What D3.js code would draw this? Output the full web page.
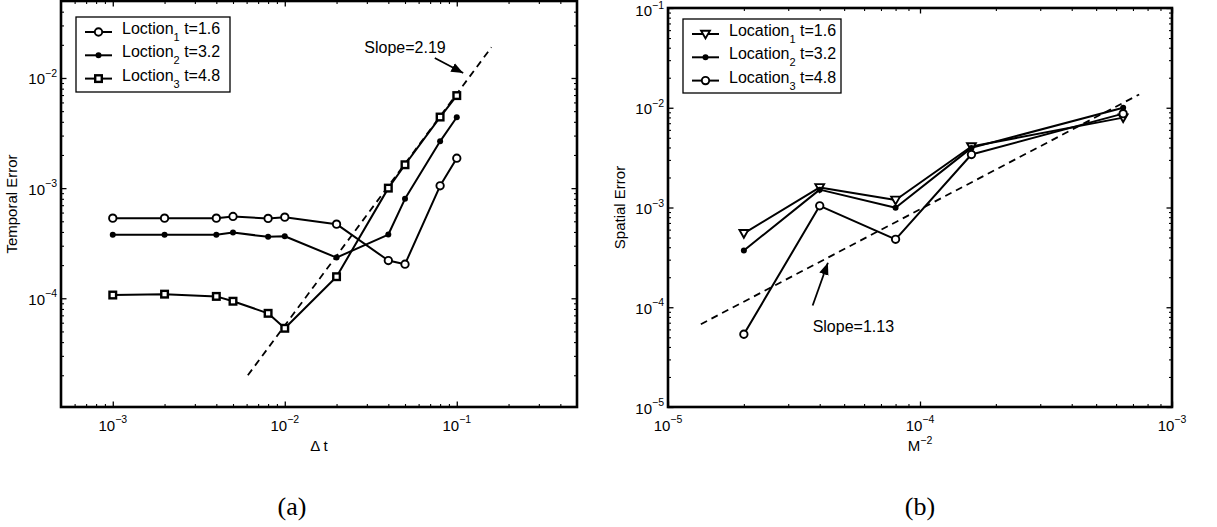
<!DOCTYPE html>
<html>
<head>
<meta charset="utf-8">
<script src="https://cdn.jsdelivr.net/npm/d3@7"></script>
<style>
  html, body { margin: 0; padding: 0; background: #fff; }
  svg { display: block; }
  text { font-family: "Liberation Sans", Arial, sans-serif; fill: #000; }
</style>
</head>
<body>
<svg id="fig" width="1217" height="527"></svg>
<script>
// ---- (a) temporal convergence ----
const dtValues = [1e-3, 2e-3, 4e-3, 5e-3, 8e-3, 1e-2, 2e-2, 4e-2, 5e-2, 8e-2, 1e-1];
const tempErrLoc1 = [5.34e-4, 5.34e-4, 5.34e-4, 5.53e-4, 5.31e-4, 5.45e-4, 4.71e-4, 2.20e-4, 2.04e-4, 1.05e-3, 1.87e-3];
const tempErrLoc2 = [3.77e-4, 3.77e-4, 3.77e-4, 3.95e-4, 3.61e-4, 3.66e-4, 2.34e-4, 3.79e-4, 8.0e-4, 2.66e-3, 4.40e-3];
const tempErrLoc3 = [1.07e-4, 1.09e-4, 1.04e-4, 9.4e-5, 7.3e-5, 5.34e-5, 1.57e-4, 1.0e-3, 1.63e-3, 4.42e-3, 6.92e-3];
const tempRefX = [6.1e-3, 0.159];
const tempRefY = [2.0e-5, 1.9e-2];
const tempLegend = ["Loction", "Loction", "Loction"];
const tempTimes = ["t=1.6", "t=3.2", "t=4.8"];
const tempXTicks = [1e-3, 1e-2, 1e-1];
const tempYTicks = [1e-4, 1e-3, 1e-2];
const tempSlopeText = "Slope=2.19";

// ---- (b) spatial convergence ----
const m2Values = [2e-5, 4e-5, 8e-5, 1.6e-4, 6.4e-4];
const spatErrLoc1 = [5.51e-4, 1.59e-3, 1.19e-3, 4.09e-3, 7.96e-3];
const spatErrLoc2 = [3.71e-4, 1.51e-3, 9.93e-4, 3.96e-3, 1.0e-2];
const spatErrLoc3 = [5.36e-5, 1.04e-3, 4.80e-4, 3.40e-3, 8.73e-3];
const spatRefX = [1.35e-5, 7.41e-4];
const spatRefY = [6.76e-5, 1.36e-2];
const spatLegend = ["Location", "Location", "Location"];
const spatTimes = ["t=1.6", "t=3.2", "t=4.8"];
const spatXTicks = [1e-5, 1e-4, 1e-3];
const spatYTicks = [1e-5, 1e-4, 1e-3, 1e-2, 1e-1];
const spatSlopeText = "Slope=1.13";

const svg = d3.select("#fig");
svg.append("rect").attr("width", 1217).attr("height", 527).attr("fill", "#fff");

const defs = svg.append("defs");
defs.append("marker").attr("id", "arrowHead")
  .attr("viewBox", "0 0 10 10").attr("refX", 10).attr("refY", 5)
  .attr("markerWidth", 12).attr("markerHeight", 12).attr("markerUnits", "userSpaceOnUse")
  .attr("orient", "auto")
  .append("path").attr("d", "M0,1 L10,5 L0,9 Z").attr("fill", "#000");

// 2..9 multiples of each decade inside the domain
function minorTicks(domain) {
  const lo = Math.floor(Math.log10(domain[0])), hi = Math.ceil(Math.log10(domain[1]));
  const out = [];
  for (let k = lo; k <= hi; k++) {
    for (let m = 2; m <= 9; m++) {
      const v = m * Math.pow(10, k);
      if (v > domain[0] && v < domain[1]) out.push(v);
    }
  }
  return out;
}

function sup(v) {
  return "\u2212" + Math.round(-Math.log10(v));
}

function markerPath(sel, kind) {
  if (kind === "circle") {
    sel.append("circle").attr("r", 3.7).attr("fill", "#fff").attr("stroke", "#000").attr("stroke-width", 1.9);
  } else if (kind === "dot") {
    sel.append("circle").attr("r", 3).attr("fill", "#000");
  } else if (kind === "square") {
    sel.append("rect").attr("x", -3.3).attr("y", -3.3).attr("width", 6.6).attr("height", 6.6)
      .attr("fill", "#fff").attr("stroke", "#000").attr("stroke-width", 2.4);
  } else if (kind === "tridown") {
    sel.append("path").attr("d", "M-4.4,-3.3 L4.4,-3.3 L0,4.4 Z")
      .attr("fill", "#fff").attr("stroke", "#000").attr("stroke-width", 1.9).attr("stroke-linejoin", "miter");
  }
}

function drawPanel(cfg) {
  const x = d3.scaleLog().domain(cfg.xDomain).range([cfg.x0, cfg.x1]);
  const y = d3.scaleLog().domain(cfg.yDomain).range([cfg.y1, cfg.y0]);
  const g = svg.append("g");

  // ticks on all four sides, pointing inward
  const axes = [
    [d3.axisBottom(x), cfg.xTicks, `translate(0,${cfg.y1})`, cfg.xDomain],
    [d3.axisTop(x), cfg.xTicks, `translate(0,${cfg.y0})`, cfg.xDomain],
    [d3.axisLeft(y), cfg.yTicks, `translate(${cfg.x0},0)`, cfg.yDomain],
    [d3.axisRight(y), cfg.yTicks, `translate(${cfg.x1},0)`, cfg.yDomain]
  ];
  axes.forEach(([ax, major, tr, dom]) => {
    const maj = major.filter(v => v >= dom[0] * 0.999 && v <= dom[1] * 1.001);
    g.append("g").attr("transform", tr)
      .call(ax.tickValues(maj).tickSize(-5.5).tickFormat(""))
      .call(s => s.select(".domain").remove())
      .call(s => s.selectAll("line").attr("stroke", "#000").attr("stroke-width", 1.3));
    g.append("g").attr("transform", tr)
      .call(ax.tickValues(minorTicks(dom)).tickSize(-3).tickFormat(""))
      .call(s => s.select(".domain").remove())
      .call(s => s.selectAll("line").attr("stroke", "#000").attr("stroke-width", 1.1));
  });

  // tick labels with superscript exponents
  const xl = g.append("g");
  cfg.xTicks.forEach(v => {
    const t = xl.append("text").attr("x", x(v)).attr("y", cfg.y1 + 24)
      .attr("text-anchor", "middle").attr("font-size", 15);
    t.append("tspan").text("10");
    t.append("tspan").attr("dy", -8).attr("font-size", 10.5).text(sup(v));
  });
  const yl = g.append("g");
  cfg.yTicks.forEach(v => {
    const t = yl.append("text").attr("x", cfg.x0 - 4).attr("y", Math.max(y(v) + 6.5, 16))
      .attr("text-anchor", "end").attr("font-size", 15);
    t.append("tspan").text("10");
    t.append("tspan").attr("dy", -7.5).attr("font-size", 10.5).text(sup(v));
  });

  // axis titles
  const xt = g.append("text").attr("x", (cfg.x0 + cfg.x1) / 2).attr("y", cfg.y1 + 44)
    .attr("text-anchor", "middle").attr("font-size", 15);
  cfg.xTitle(xt);
  g.append("text")
    .attr("transform", `translate(${cfg.yTitleX},${(cfg.y0 + cfg.y1) / 2}) rotate(-90)`)
    .attr("text-anchor", "middle").attr("font-size", 15).text(cfg.yTitle);

  // clipped data area
  const clipId = "clip" + cfg.id;
  defs.append("clipPath").attr("id", clipId)
    .append("rect").attr("x", cfg.x0).attr("y", cfg.y0)
    .attr("width", cfg.x1 - cfg.x0).attr("height", cfg.y1 - cfg.y0);
  const plot = g.append("g").attr("clip-path", `url(#${clipId})`);

  // reference slope line
  const refPts = cfg.refX.map((v, i) => [v, cfg.refY[i]]);
  plot.append("path")
    .attr("d", d3.line().x(d => x(d[0])).y(d => y(d[1]))(refPts))
    .attr("fill", "none").attr("stroke", "#000").attr("stroke-width", 1.8)
    .attr("stroke-dasharray", "7,5");

  // series
  cfg.series.forEach(s => {
    const pts = cfg.xs.map((v, i) => [v, s.values[i]]);
    plot.append("path")
      .attr("d", d3.line().x(d => x(d[0])).y(d => y(d[1]))(pts))
      .attr("fill", "none").attr("stroke", "#000").attr("stroke-width", 2)
      .attr("stroke-linejoin", "round");
    pts.forEach(p => {
      const m = plot.append("g").attr("transform", `translate(${x(p[0])},${y(p[1])})`);
      markerPath(m, s.marker);
    });
  });

  // slope annotation
  g.append("line")
    .attr("x1", x(cfg.arrow[0])).attr("y1", y(cfg.arrow[1]))
    .attr("x2", x(cfg.arrow[2])).attr("y2", y(cfg.arrow[3]))
    .attr("stroke", "#000").attr("stroke-width", 1.8)
    .attr("marker-end", "url(#arrowHead)");
  g.append("text").attr("x", x(cfg.slopePos[0])).attr("y", y(cfg.slopePos[1]))
    .attr("font-size", 16).text(cfg.slopeText);

  // frame
  g.append("rect").attr("x", cfg.x0).attr("y", cfg.y0)
    .attr("width", cfg.x1 - cfg.x0).attr("height", cfg.y1 - cfg.y0)
    .attr("fill", "none").attr("stroke", "#000").attr("stroke-width", 2.6);

  // legend
  const lg = g.append("g").attr("transform", `translate(${cfg.legend.x},${cfg.legend.y})`);
  lg.append("rect").attr("width", cfg.legend.w).attr("height", cfg.legend.h)
    .attr("fill", "#fff").attr("stroke", "#000").attr("stroke-width", 1.3);
  cfg.series.forEach((s, i) => {
    const ly = 15 + i * 23.3;
    lg.append("line").attr("x1", 9).attr("x2", 36).attr("y1", ly).attr("y2", ly)
      .attr("stroke", "#000").attr("stroke-width", 2);
    markerPath(lg.append("g").attr("transform", `translate(22.5,${ly})`), s.marker);
    const t = lg.append("text").attr("x", 46).attr("y", ly + 2).attr("font-size", 16);
    t.append("tspan").text(s.name);
    t.append("tspan").attr("dy", 7).attr("font-size", 11).text(String(i + 1));
    t.append("tspan").attr("dy", -7).attr("font-size", 16).text(" " + s.time);
  });
}

drawPanel({
  id: "a", x0: 61, x1: 577, y0: 1, y1: 407,
  xDomain: [5e-4, 0.5], yDomain: [1.03e-5, 5e-2],
  xTicks: tempXTicks, yTicks: tempYTicks,
  xs: dtValues,
  series: [
    { values: tempErrLoc1, marker: "circle", name: tempLegend[0], time: tempTimes[0] },
    { values: tempErrLoc2, marker: "dot", name: tempLegend[1], time: tempTimes[1] },
    { values: tempErrLoc3, marker: "square", name: tempLegend[2], time: tempTimes[2] }
  ],
  refX: tempRefX, refY: tempRefY,
  arrow: [0.0745, 0.0152, 0.109, 0.0111],
  slopePos: [0.029, 0.0168], slopeText: tempSlopeText,
  xTitle: t => t.text("\u0394 t"),
  yTitle: "Temporal Error", yTitleX: 17,
  legend: { x: 76, y: 17, w: 154, h: 75 }
});

drawPanel({
  id: "b", x0: 668, x1: 1172, y0: 8, y1: 407,
  xDomain: [1e-5, 1e-3], yDomain: [1e-5, 1e-1],
  xTicks: spatXTicks, yTicks: spatYTicks,
  xs: m2Values,
  series: [
    { values: spatErrLoc1, marker: "tridown", name: spatLegend[0], time: spatTimes[0] },
    { values: spatErrLoc2, marker: "dot", name: spatLegend[1], time: spatTimes[1] },
    { values: spatErrLoc3, marker: "circle", name: spatLegend[2], time: spatTimes[2] }
  ],
  refX: spatRefX, refY: spatRefY,
  arrow: [3.75e-5, 1.04e-4, 4.31e-5, 2.79e-4],
  slopePos: [3.75e-5, 5.6e-5], slopeText: spatSlopeText,
  xTitle: t => {
    t.append("tspan").text("M");
    t.append("tspan").attr("dy", -7).attr("font-size", 10.5).text("\u22122");
  },
  yTitle: "Spatial Error", yTitleX: 625,
  legend: { x: 683, y: 19, w: 158, h: 74 }
});

// sub-figure captions
svg.append("text").attr("x", 292).attr("y", 515).attr("text-anchor", "middle")
  .attr("font-size", 26).style("font-family", "'Liberation Serif', 'DejaVu Serif', serif").text("(a)");
svg.append("text").attr("x", 920).attr("y", 515).attr("text-anchor", "middle")
  .attr("font-size", 26).style("font-family", "'Liberation Serif', 'DejaVu Serif', serif").text("(b)");
</script>
</body>
</html>
